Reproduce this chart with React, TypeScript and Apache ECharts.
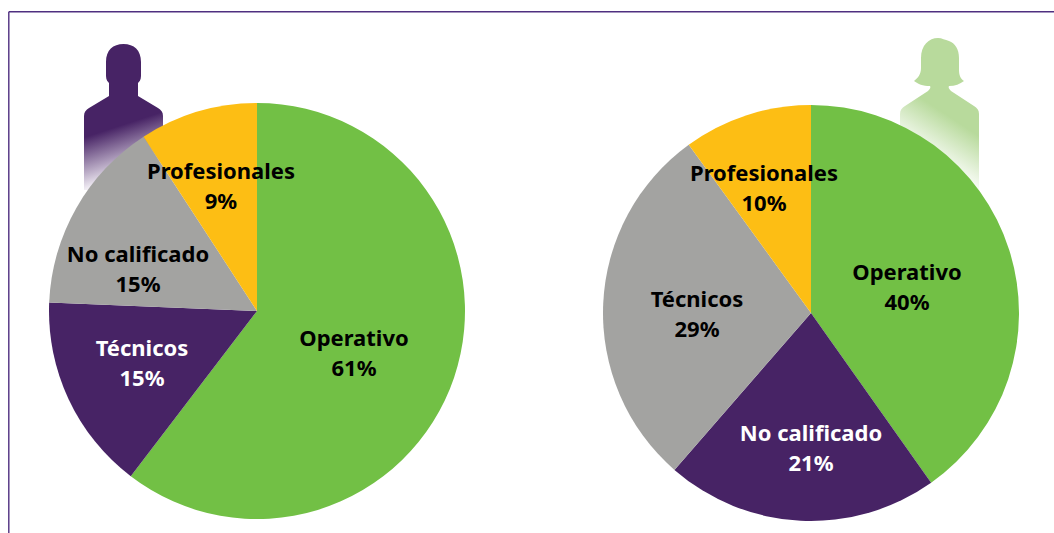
import React, { useEffect, useRef } from "react";
import * as echarts from "echarts";

const leftNames = ["Operativo", "Técnicos", "No calificado", "Profesionales"];
const leftValues = [60.5, 15.3, 15.2, 9.2];
const rightNames = ["Operativo", "No calificado", "Técnicos", "Profesionales"];
const rightValues = [40.2, 21.2, 28.6, 10.0];

const GREEN = "#72c045";
const PURPLE = "#472365";
const GRAY = "#a3a3a1";
const YELLOW = "#fdbe14";

const leftColors = [GREEN, PURPLE, GRAY, YELLOW];
const rightColors = [GREEN, PURPLE, GRAY, YELLOW];
const leftLabelColors = ["#000", "#fff", "#000", "#000"];
const rightLabelColors = ["#000", "#fff", "#000", "#000"];
const leftLabelPos = [[354, 352], [142, 362], [138, 268], [221, 185]];
const rightLabelPos = [[907, 286], [811, 447], [697, 313], [764, 187]];

const maleD =
  "M106 62 C106 50 113 44 123.5 44 C134 44 141 50 141 62 L141 76 C141 80 139 82 138 83 L138 96 L158 108 C161 110 163 112 163 116 L163 190 L84 190 L84 116 C84 112 86 110 89 108 L109 96 L109 83 C108 82 106 80 106 76 Z";
const femaleD =
  "M921 58 C921 45 929 38 938 38 C942 38 945 40 949 41 C955 43 959 49 959 58 L959 70 C959 76 961 79 964 81 C960 84 955 86 949 86 C948 87 949 89 951 91 L974 106 C977 108 979 110 979 114 L979 195 L900 195 L900 114 C900 110 902 108 905 106 L928 91 C930 89 931 87 930 86 C923 86 918 84 914 81 C918 78 921 74 921 68 Z";

echarts.graphic.registerShape("maleFigure", echarts.graphic.extendPath(maleD, {}));
echarts.graphic.registerShape("femaleFigure", echarts.graphic.extendPath(femaleD, {}));

function pie(
  names: string[],
  values: number[],
  colors: string[],
  labelColors: string[],
  pos: number[][],
  center: number[]
) {
  return {
    type: "pie",
    center,
    radius: 208,
    startAngle: 90,
    clockwise: true,
    avoidLabelOverlap: false,
    silent: true,
    z: 2,
    labelLine: { show: false },
    labelLayout: (p: any) => ({
      x: pos[p.dataIndex][0],
      y: pos[p.dataIndex][1],
      align: "center",
      verticalAlign: "middle",
    }),
    data: names.map((name, i) => ({
      name,
      value: values[i],
      itemStyle: { color: colors[i], borderWidth: 0 },
      label: {
        show: true,
        position: "inside",
        formatter: `${name}\n${Math.round(values[i])}%`,
        color: labelColors[i],
        fontFamily: "Noto Sans",
        fontWeight: "bold",
        fontSize: 22,
        lineHeight: 30,
        align: "center",
      },
    })),
  };
}

export default function App() {
  const ref = useRef<HTMLDivElement>(null);
  useEffect(() => {
    const chart = echarts.init(ref.current!, null, { renderer: "svg" });
    chart.setOption({
      animation: false,
      backgroundColor: "#fff",
      graphic: [
        { type: "line", shape: { x1: 8.8, y1: 11.8, x2: 1054, y2: 11.8 }, style: { stroke: "#4f2f80", lineWidth: 1.4 }, z: 1 },
        { type: "line", shape: { x1: 8.8, y1: 11.8, x2: 8.8, y2: 533 }, style: { stroke: "#4f2f80", lineWidth: 1.4 }, z: 1 },
        {
          type: "maleFigure",
          x: 0,
          y: 0,
          z: 0,
          style: {
            fill: {
              type: "linear",
              global: true,
              x: 110,
              y: 129,
              x2: 125.5,
              y2: 176.5,
              colorStops: [
                { offset: 0, color: "#472365" },
                { offset: 1, color: "#f2eef5" },
              ],
            },
          },
        },
        {
          type: "femaleFigure",
          x: 0,
          y: 0,
          z: 0,
          style: {
            fill: {
              type: "linear",
              global: true,
              x: 950,
              y: 117,
              x2: 923,
              y2: 158,
              colorStops: [
                { offset: 0, color: "#b8da9c" },
                { offset: 1, color: "#ffffff" },
              ],
            },
          },
        },
      ],
      series: [
        pie(leftNames, leftValues, leftColors, leftLabelColors, leftLabelPos, [257, 311]),
        pie(rightNames, rightValues, rightColors, rightLabelColors, rightLabelPos, [811, 313]),
      ],
    });
    return () => chart.dispose();
  }, []);
  return (
    <div
      ref={ref}
      style={{ position: "fixed", left: 0, top: 0, width: 1054, height: 533 }}
    />
  );
}
